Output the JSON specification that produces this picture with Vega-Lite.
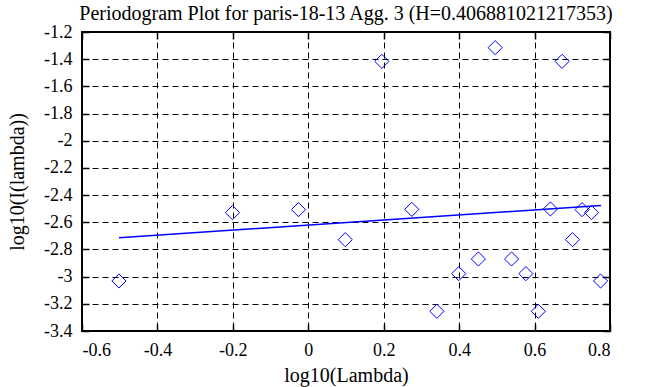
{
  "$schema": "https://vega.github.io/schema/vega-lite/v6.json",
  "autosize": "none",
  "width": 528,
  "height": 299,
  "padding": {"left": 82, "top": 32, "right": 48, "bottom": 56},
  "background": "white",
  "config": {
    "view": {"stroke": "black", "strokeWidth": 2},
    "font": "Liberation Serif",
    "axis": {
      "labelFont": "Liberation Serif",
      "titleFont": "Liberation Serif",
      "labelFontSize": 18,
      "titleFontSize": 20,
      "titleFontWeight": "normal",
      "labelColor": "black",
      "titleColor": "black",
      "domain": false,
      "tickColor": "black",
      "tickWidth": 1.5,
      "tickSize": -7,
      "gridColor": "black",
      "gridOpacity": 1,
      "gridDash": [6, 4],
      "gridWidth": 1
    },
    "title": {"font": "Liberation Serif", "fontSize": 20, "fontWeight": "normal", "color": "black"}
  },
  "title": {"text": "Periodogram Plot for paris-18-13 Agg. 3 (H=0.406881021217353)", "offset": 3, "dy": 4},
  "datasets": {
    "points": [
      {"lambda": -0.502, "logI": -3.032},
      {"lambda": -0.201, "logI": -2.529},
      {"lambda": -0.026, "logI": -2.507},
      {"lambda": 0.098, "logI": -2.728},
      {"lambda": 0.195, "logI": -1.416},
      {"lambda": 0.2745, "logI": -2.505},
      {"lambda": 0.341, "logI": -3.255},
      {"lambda": 0.399, "logI": -2.978},
      {"lambda": 0.451, "logI": -2.87},
      {"lambda": 0.4955, "logI": -1.315},
      {"lambda": 0.539, "logI": -2.87},
      {"lambda": 0.577, "logI": -2.978},
      {"lambda": 0.61, "logI": -3.255},
      {"lambda": 0.642, "logI": -2.502},
      {"lambda": 0.673, "logI": -1.416},
      {"lambda": 0.7005, "logI": -2.728},
      {"lambda": 0.726, "logI": -2.507},
      {"lambda": 0.751, "logI": -2.529},
      {"lambda": 0.775, "logI": -3.032}
    ],
    "fit": [
      {"lambda": -0.502, "logI": -2.713},
      {"lambda": 0.776, "logI": -2.477}
    ]
  },
  "layer": [
    {
      "data": {"name": "points"},
      "mark": {"type": "point", "shape": "diamond", "filled": false, "stroke": "#0000ff", "strokeWidth": 1, "size": 200, "opacity": 1},
      "encoding": {
        "x": {
          "field": "lambda", "type": "quantitative",
          "scale": {"domain": [-0.6, 0.8], "nice": false, "zero": false},
          "axis": {"title": "log10(Lambda)", "values": [-0.6, -0.4, -0.2, 0, 0.2, 0.4, 0.6, 0.8], "labelExpr": "'' + datum.value", "grid": true, "labelPadding": 17, "titlePadding": 6}
        },
        "y": {
          "field": "logI", "type": "quantitative",
          "scale": {"domain": [-3.4, -1.2], "nice": false, "zero": false},
          "axis": {"title": "log10(I(lambda))", "values": [-3.4, -3.2, -3, -2.8, -2.6, -2.4, -2.2, -2, -1.8, -1.6, -1.4, -1.2], "labelExpr": "'' + datum.value", "grid": true, "labelPadding": 17, "titlePadding": 16}
        }
      }
    },
    {
      "data": {"name": "fit"},
      "mark": {"type": "line", "color": "#0000ff", "strokeWidth": 1.5},
      "encoding": {
        "x": {
          "field": "lambda", "type": "quantitative",
          "axis": {"orient": "top", "title": null, "labels": false, "grid": false, "values": [-0.6, -0.4, -0.2, 0, 0.2, 0.4, 0.6, 0.8]}
        },
        "y": {
          "field": "logI", "type": "quantitative",
          "axis": {"orient": "right", "title": null, "labels": false, "grid": false, "values": [-3.4, -3.2, -3, -2.8, -2.6, -2.4, -2.2, -2, -1.8, -1.6, -1.4, -1.2]}
        }
      }
    }
  ],
  "resolve": {"axis": {"x": "independent", "y": "independent"}}
}
